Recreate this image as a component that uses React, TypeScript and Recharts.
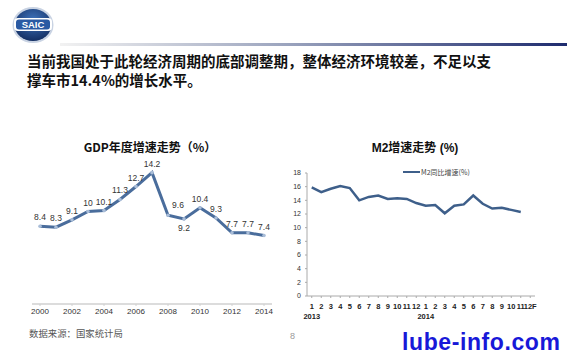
import React from 'react';
import { LineChart, Line, XAxis, YAxis, LabelList, Legend } from 'recharts';

const gdpYears = ['2000', '2001', '2002', '2003', '2004', '2005', '2006', '2007', '2008', '2009', '2010', '2011', '2012', '2013', '2014'];
const gdpValues = [8.4, 8.3, 9.1, 10, 10.1, 11.3, 12.7, 14.2, 9.6, 9.2, 10.4, 9.3, 7.7, 7.7, 7.4];

const m2Months = ['1', '2', '3', '4', '5', '6', '7', '8', '9', '10', '11', '12', '1', '2', '3', '4', '5', '6', '7', '8', '9', '10', '11', '12F'];
const m2YearMarks = ['2013', '', '', '', '', '', '', '', '', '', '', '', '2014', '', '', '', '', '', '', '', '', '', '', ''];
const m2Values = [15.9, 15.2, 15.7, 16.1, 15.8, 14.0, 14.5, 14.7, 14.2, 14.3, 14.2, 13.6, 13.2, 13.3, 12.1, 13.2, 13.4, 14.7, 13.5, 12.8, 12.9, 12.6, 12.3, null];
const m2Ticks = [0, 2, 4, 6, 8, 10, 12, 14, 16, 18];

const gdpData = gdpYears.map((year, i) => ({ year, value: gdpValues[i] }));
const m2Data = m2Months.map((m, i) => ({ m, i, value: m2Values[i] }));

const numFont = '"Liberation Sans", "Noto Sans CJK SC", sans-serif';
const cjkFont = '"Noto Sans CJK SC", sans-serif';

const GdpLabel = (props: any) => {
  const { x, y, value, index } = props;
  let dx = 0;
  let dy = -6;
  if (index === 9) dy = 12; // 9.2 sits under the point
  if (index === 8) { dx = 10; dy = -7; }
  return (
    <text x={x + dx} y={y + dy} textAnchor="middle" fontSize={8.5} fill="#333" fontFamily={numFont}>
      {value}
    </text>
  );
};

const M2Tick = (props: any) => {
  const { x, y, payload } = props;
  const idx = payload.index;
  return (
    <g>
      <text x={x} y={y + 9} textAnchor="middle" fontSize={7.5} fontWeight={600} fill="#222" fontFamily={numFont}>
        {m2Months[idx]}
      </text>
      {m2YearMarks[idx] ? (
        <text x={x} y={y + 19} textAnchor="middle" fontSize={7.5} fontWeight={600} fill="#222" fontFamily={numFont}>
          {m2YearMarks[idx]}
        </text>
      ) : null}
    </g>
  );
};

const M2Legend = () => (
  <div style={{ display: 'flex', alignItems: 'center', fontFamily: cjkFont, fontSize: 7, color: '#444', whiteSpace: 'nowrap' }}>
    <span style={{ display: 'inline-block', width: 17, height: 2.5, background: '#3e5f8a', marginRight: 1 }} />
    M2同比增速(%)
  </div>
);

const Logo = () => (
  <svg width={44} height={40} style={{ position: 'absolute', left: 11, top: 5 }}>
    <defs>
      <radialGradient id="lg" cx="50%" cy="35%" r="65%">
        <stop offset="0%" stopColor="#3f74bd" />
        <stop offset="100%" stopColor="#142f63" />
      </radialGradient>
    </defs>
    <ellipse cx={22} cy={20} rx={20.5} ry={18} fill="#c9d3e3" />
    <ellipse cx={22} cy={20} rx={18.5} ry={16} fill="url(#lg)" />
    <rect x={3} y={13} width={38} height={13} rx={4} fill="#ffffff" />
    <rect x={5} y={14.5} width={34} height={10} rx={3} fill="#2a5aa3" />
    <text x={22} y={23} textAnchor="middle" fontSize={9.5} fontWeight={700} fill="#fff" fontFamily={numFont}>SAIC</text>
  </svg>
);

export default function App() {
  return (
    <div style={{ position: 'absolute', left: 0, top: 0, width: 567, height: 354, background: '#fff', overflow: 'hidden', fontFamily: cjkFont }}>
      <Logo />
      <div style={{ position: 'absolute', left: 60, top: 43, width: 507, height: 3, background: 'linear-gradient(to right, #f2f2f2, #9aa3bd 45%, #1e2b6e)' }} />
      <div style={{ position: 'absolute', left: 27, top: 51, width: 520, fontSize: 14.5, fontWeight: 700, lineHeight: '19px', color: '#111' }}>
        当前我国处于此轮经济周期的底部调整期，整体经济环境较差，不足以支<br />撑车市14.4%的增长水平。
      </div>

      <div style={{ position: 'absolute', left: 0, top: 139, width: 300, textAlign: 'center', fontSize: 12, fontWeight: 700, color: '#111', lineHeight: '16px' }}>
        GDP年度增速走势（%）
      </div>
      <div style={{ position: 'absolute', left: 0, top: 140 }}>
        <LineChart width={290} height={190} data={gdpData} margin={{ top: 16, right: 18, left: 32, bottom: 0 }}>
          <XAxis
            dataKey="year"
            interval={1}
            height={26}
            padding={{ left: 8, right: 8 }}
            axisLine={{ stroke: '#d0d0d0', strokeWidth: 1.5 }}
            tickLine={{ stroke: '#d0d0d0' }}
            tickSize={2}
            tick={{ fontSize: 8, fill: '#333', fontFamily: numFont }}
          />
          <YAxis hide domain={[0, 16]} />
          <Line
            dataKey="value"
            type="linear"
            stroke="#4a6d9c"
            strokeWidth={3}
            dot={{ r: 1.8, fill: '#a9bdd8', stroke: 'none' }}
            isAnimationActive={false}
          >
            <LabelList dataKey="value" content={GdpLabel} />
          </Line>
        </LineChart>
      </div>

      <div style={{ position: 'absolute', left: 300, top: 139, width: 230, textAlign: 'center', fontSize: 12, fontWeight: 700, color: '#111', lineHeight: '16px', fontFamily: numFont }}>
        M2<span style={{ fontFamily: cjkFont }}>增速走势</span> (%)
      </div>
      <div style={{ position: 'absolute', left: 280, top: 140 }}>
        <LineChart width={280} height={200} data={m2Data} margin={{ top: 23, right: 25, left: 7, bottom: 14 }}>
          <Legend verticalAlign="top" content={M2Legend} wrapperStyle={{ position: 'absolute', left: 123, top: 27, width: 'auto' }} />
          <XAxis
            dataKey="i"
            interval={0}
            height={30}
            padding={{ left: 4.75, right: 4.75 }}
            axisLine={{ stroke: '#aaa' }}
            tickLine={{ stroke: '#aaa' }}
            tickSize={2}
            tick={<M2Tick />}
          />
          <YAxis
            width={20}
            domain={[0, 18]}
            ticks={m2Ticks}
            interval={0}
            axisLine={{ stroke: '#aaa' }}
            tickLine={{ stroke: '#aaa' }}
            tickSize={2}
            tickMargin={4}
            tick={{ fontSize: 7, fill: '#333', fontFamily: numFont }}
          />
          <Line
            dataKey="value"
            type="linear"
            stroke="#3e5f8a"
            strokeWidth={2.5}
            dot={false}
            isAnimationActive={false}
          />
        </LineChart>
      </div>

      <div style={{ position: 'absolute', left: 29, top: 326, fontSize: 9.4, color: '#555' }}>数据来源：国家统计局</div>
      <div style={{ position: 'absolute', left: 290, top: 331, fontSize: 9, color: '#999', fontFamily: numFont }}>8</div>
      <div style={{ position: 'absolute', left: 402, top: 331, fontSize: 23, fontWeight: 700, color: '#1818d8', fontFamily: numFont, lineHeight: '22px', letterSpacing: 0.6, whiteSpace: 'nowrap' }}>
        lube-info.com
      </div>
    </div>
  );
}
